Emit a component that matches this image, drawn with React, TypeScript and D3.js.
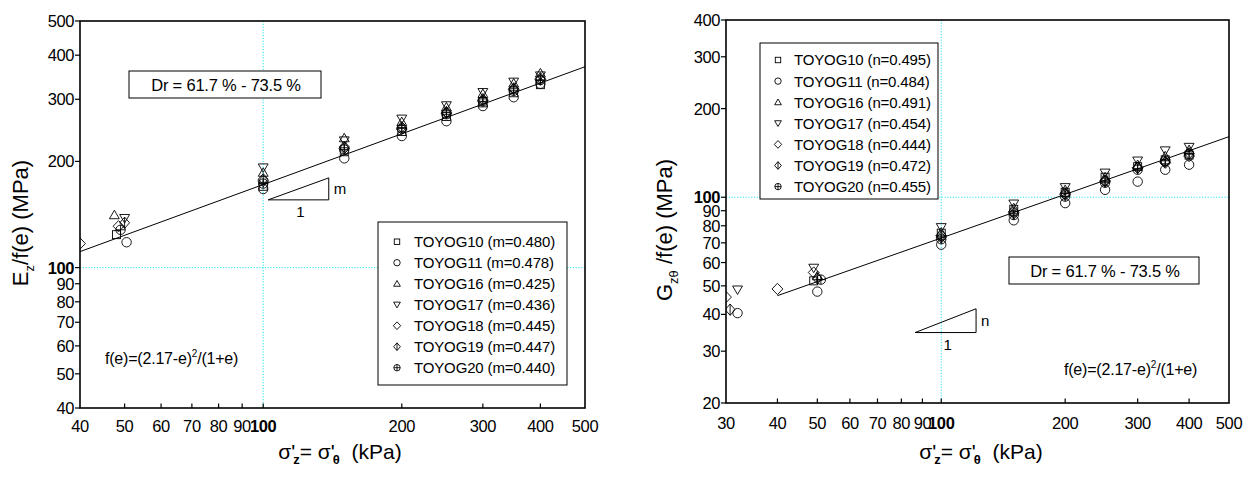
import React from 'react';
import * as d3 from 'd3';

const FONT = "'Liberation Sans', Arial, Helvetica, sans-serif";

// Specimens, their symbols and fitted exponents
const seriesNames = ['TOYOG10', 'TOYOG11', 'TOYOG16', 'TOYOG17', 'TOYOG18', 'TOYOG19', 'TOYOG20'];
const symbolKinds = ['square', 'circle', 'triangleUp', 'triangleDown', 'diamond', 'diamondBar', 'circlePlus'];
const mExponents = ['0.480', '0.478', '0.425', '0.436', '0.445', '0.447', '0.440'];
const nExponents = ['0.495', '0.484', '0.491', '0.454', '0.444', '0.472', '0.455'];

// Young's modulus Ez/f(e) (MPa) against vertical stress (kPa)
const eStress10 = [48, 100, 150, 200, 250, 300, 350, 400];
const eValue10 = [124, 170, 213, 243, 268, 293, 313, 330];
const eStress11 = [50.5, 100, 150, 200, 250, 300, 350, 400];
const eValue11 = [118, 167, 204, 236, 260, 287, 304, 332];
const eStress16 = [47.5, 100, 150, 200, 250, 300, 350, 400];
const eValue16 = [141, 186, 233, 259, 285, 311, 333, 356];
const eStress17 = [50, 100, 150, 200, 250, 300, 350, 400];
const eValue17 = [138, 192, 229, 264, 288, 314, 336, 350];
const eStress18 = [40, 48.5, 100, 150, 200, 250, 300, 350, 400];
const eValue18 = [117, 131, 176, 218, 247, 274, 297, 320, 341];
const eStress19 = [50, 100, 150, 200, 250, 300, 350, 400];
const eValue19 = [134, 178, 220, 250, 276, 300, 322, 344];
const eStress20 = [49, 100, 150, 200, 250, 300, 350, 400];
const eValue20 = [128, 173, 216, 248, 272, 296, 317, 340];

// Shear modulus Gzθ/f(e) (MPa) against vertical stress (kPa)
const gStress10 = [49, 100, 150, 200, 250, 300, 350, 400];
const gValue10 = [52, 75.5, 91, 104, 117, 127, 134, 139];
const gStress11 = [32, 50, 100, 150, 200, 250, 300, 350, 400];
const gValue11 = [40.4, 47.8, 69, 83.5, 95.5, 106, 113, 124, 129];
const gStress16 = [50, 100, 150, 200, 250, 300, 350, 400];
const gValue16 = [54, 76, 92, 106, 117, 129, 138, 145];
const gStress17 = [32, 49, 100, 150, 200, 250, 300, 350, 400];
const gValue17 = [48.5, 57.5, 79, 95, 108, 121, 133, 144, 148];
const gStress18 = [30, 40, 49, 100, 150, 200, 250, 300, 350, 400];
const gValue18 = [45.8, 48.8, 55.5, 74, 89, 102, 113, 126, 131, 138];
const gStress19 = [30.7, 50, 100, 150, 200, 250, 300, 350, 400];
const gValue19 = [41.5, 53, 73, 88, 103, 114, 126, 132, 141];
const gStress20 = [51, 100, 150, 200, 250, 300, 350, 400];
const gValue20 = [52.5, 72, 87, 100.5, 112, 124, 133, 140];

// Regression lines (end points)
const eFitStress = [40, 500];
const eFitValue = [111, 371];
const gFitStress = [40, 500];
const gFitValue = [46.3, 160.6];

// Slope triangles (data coordinates)
const eSlopeStress = [102.5, 138.8];
const eSlopeValue = [155.6, 179.6];
const gSlopeStress = [86.4, 121.5];
const gSlopeValue = [34.7, 41.8];

// Axis ticks
const eXTicks = [40, 50, 60, 70, 80, 90, 100, 200, 300, 400, 500];
const eYTicks = [40, 50, 60, 70, 80, 90, 100, 200, 300, 400, 500];
const gXTicks = [30, 40, 50, 60, 70, 80, 90, 100, 200, 300, 400, 500];
const gYTicks = [20, 30, 40, 50, 60, 70, 80, 90, 100, 200, 300, 400];

const eSeries = [
  [eStress10, eValue10], [eStress11, eValue11], [eStress16, eValue16], [eStress17, eValue17],
  [eStress18, eValue18], [eStress19, eValue19], [eStress20, eValue20],
];
const gSeries = [
  [gStress10, gValue10], [gStress11, gValue11], [gStress16, gValue16], [gStress17, gValue17],
  [gStress18, gValue18], [gStress19, gValue19], [gStress20, gValue20],
];

function Marker({ kind, cx, cy, s, sw = 0.9 }: { kind: string; cx: number; cy: number; s: number; sw?: number }) {
  const st = { fill: 'none', stroke: '#000', strokeWidth: sw };
  switch (kind) {
    case 'square':
      return <rect x={cx - s * 0.85} y={cy - s * 0.85} width={s * 1.7} height={s * 1.7} {...st} />;
    case 'circle':
      return <circle cx={cx} cy={cy} r={s} {...st} />;
    case 'triangleUp':
      return <path d={`M${cx},${cy - s} L${cx + s * 1.05},${cy + s * 0.8} L${cx - s * 1.05},${cy + s * 0.8}Z`} {...st} />;
    case 'triangleDown':
      return <path d={`M${cx},${cy + s} L${cx + s * 1.05},${cy - s * 0.8} L${cx - s * 1.05},${cy - s * 0.8}Z`} {...st} />;
    case 'diamond':
      return <path d={`M${cx},${cy - s * 1.2} L${cx + s * 1.15},${cy} L${cx},${cy + s * 1.2} L${cx - s * 1.15},${cy}Z`} {...st} />;
    case 'diamondBar':
      return (
        <g>
          <path d={`M${cx},${cy - s * 1.2} L${cx + s * 1.05},${cy} L${cx},${cy + s * 1.2} L${cx - s * 1.05},${cy}Z`} {...st} />
          <line x1={cx} y1={cy - s * 1.2} x2={cx} y2={cy + s * 1.2} {...st} />
        </g>
      );
    default:
      return (
        <g>
          <circle cx={cx} cy={cy} r={s} {...st} />
          <line x1={cx - s} y1={cy} x2={cx + s} y2={cy} {...st} />
          <line x1={cx} y1={cy - s} x2={cx} y2={cy + s} {...st} />
        </g>
      );
  }
}

type PanelProps = {
  id: string;
  xs: d3.ScaleLogarithmic<number, number>;
  ys: d3.ScaleLogarithmic<number, number>;
  xTicks: number[];
  yTicks: number[];
  series: number[][][];
  fitX: number[];
  fitY: number[];
  slopeX: number[];
  slopeY: number[];
  slopeLetter: string;
  exps: string[];
  expLetter: string;
  legend: { x: number; y: number; w: number; h: number; row0: number; step: number; symX: number; textX: number };
  dr: { x: number; y: number; w: number; h: number; tx: number; ty: number };
  fe: { x: number; y: number };
  yLabel: { x: number; y: number; sub: string; gap: string };
  xLabel: { x: number; y: number };
  xLabelBase: number;
};

function Panel(p: PanelProps) {
  const [x0, x1] = p.xs.range();
  const [y0, y1] = p.ys.range(); // y0 bottom, y1 top
  const guide = { stroke: '#22e6ee', strokeWidth: 1, strokeDasharray: '1.2,1.6' };
  const line = d3.line<number>().x((_, i) => p.xs(p.fitX[i])).y((_, i) => p.ys(p.fitY[i]));
  const sx0 = p.xs(p.slopeX[0]);
  const sx1 = p.xs(p.slopeX[1]);
  const sy0 = p.ys(p.slopeY[0]);
  const sy1 = p.ys(p.slopeY[1]);
  return (
    <g fontFamily={FONT}>
      <defs>
        <clipPath id={p.id}>
          <rect x={x0} y={y1} width={x1 - x0} height={y0 - y1} />
        </clipPath>
      </defs>
      {/* guide lines at 100 kPa / 100 MPa */}
      <line x1={p.xs(100)} x2={p.xs(100)} y1={y1} y2={y0} {...guide} />
      <line x1={x0} x2={x1} y1={p.ys(100)} y2={p.ys(100)} {...guide} />

      {/* regression line */}
      <path d={line(p.fitX) || ''} fill="none" stroke="#000" strokeWidth={1} clipPath={`url(#${p.id})`} />

      {/* measured points */}
      <g clipPath={`url(#${p.id})`}>
        {p.series.map(([sx, sy], si) =>
          sx.map((v, i) => (
            <Marker key={`${si}-${i}`} kind={symbolKinds[si]} cx={p.xs(v)} cy={p.ys(sy[i])} s={4.7} />
          ))
        )}
      </g>

      {/* slope triangle */}
      <path d={`M${sx0},${sy0} L${sx1},${sy0} L${sx1},${sy1} Z`} fill="none" stroke="#000" strokeWidth={1} />
      <text x={sx1 + 5} y={(sy0 + sy1) / 2 + 5} fontSize={15}>{p.slopeLetter}</text>
      <text x={(sx0 + sx1) / 2 + 2} y={sy0 + 17} fontSize={15} textAnchor="middle">1</text>

      {/* frame */}
      <rect x={x0} y={y1} width={x1 - x0} height={y0 - y1} fill="none" stroke="#000" strokeWidth={1.6} />

      {/* x ticks */}
      {p.xTicks.map((t) => (
        <g key={`xt${t}`}>
          {t !== p.xs.domain()[0] && t !== p.xs.domain()[1] && (
            <line x1={p.xs(t)} x2={p.xs(t)} y1={y0} y2={y0 - 4.5} stroke="#000" strokeWidth={1.2} />
          )}
          <text x={p.xs(t)} y={p.xLabelBase} fontSize={16.5} textAnchor="middle" fontWeight={t === 100 ? 'bold' : 'normal'} letterSpacing={-0.4}>
            {t}
          </text>
        </g>
      ))}
      {/* y ticks */}
      {p.yTicks.map((t) => (
        <g key={`yt${t}`}>
          <line x1={x0 - 5} x2={x0} y1={p.ys(t)} y2={p.ys(t)} stroke="#000" strokeWidth={1.2} />
          <text x={x0 - 6} y={p.ys(t) + 6} fontSize={16.5} textAnchor="end" fontWeight={t === 100 ? 'bold' : 'normal'} letterSpacing={-0.4}>
            {t}
          </text>
        </g>
      ))}

      {/* legend */}
      <rect x={p.legend.x} y={p.legend.y} width={p.legend.w} height={p.legend.h} fill="#fff" stroke="#000" strokeWidth={1} />
      {seriesNames.map((name, i) => {
        const cy = p.legend.row0 + i * p.legend.step;
        return (
          <g key={name}>
            <Marker kind={symbolKinds[i]} cx={p.legend.symX} cy={cy} s={3.2} sw={0.9} />
            <text x={p.legend.textX} y={cy + 5.4} fontSize={15} letterSpacing={-0.15}>
              {`${name} (${p.expLetter}=${p.exps[i]})`}
            </text>
          </g>
        );
      })}

      {/* density range */}
      <rect x={p.dr.x} y={p.dr.y} width={p.dr.w} height={p.dr.h} fill="#fff" stroke="#000" strokeWidth={1} />
      <text x={p.dr.tx} y={p.dr.ty} fontSize={16.5} textAnchor="middle" letterSpacing={-0.2}>Dr = 61.7 % - 73.5 %</text>

      {/* void ratio function */}
      <text x={p.fe.x} y={p.fe.y} fontSize={16} letterSpacing={-0.2}>
        f(e)=(2.17-e)<tspan fontSize={10} dy={-7}>2</tspan>
        <tspan dy={7}>/(1+e)</tspan>
      </text>

      {/* y label */}
      <text transform={`translate(${p.yLabel.x},${p.yLabel.y}) rotate(-90)`} fontSize={22} textAnchor="middle">
        {p.yLabel.sub === 'z' ? 'E' : 'G'}
        <tspan fontSize={13} dy={6}>{p.yLabel.sub}</tspan>
        <tspan dy={-6}>{`${p.yLabel.gap}/f(e) (MPa)`}</tspan>
      </text>

      {/* x label */}
      <text x={p.xLabel.x} y={p.xLabel.y} fontSize={21} textAnchor="middle" style={{ whiteSpace: 'pre' }}>
        σ'
        <tspan fontSize={13} fontWeight="bold" dy={5} dx={-2}>z</tspan>
        <tspan dy={-5}>= σ'</tspan>
        <tspan fontSize={13} fontWeight="bold" dy={5} dx={-2}>θ</tspan>
        <tspan dy={-5}>{'  (kPa)'}</tspan>
      </text>
    </g>
  );
}

export default function App() {
  const xE = d3.scaleLog().domain([40, 500]).range([80, 585]);
  const yE = d3.scaleLog().domain([40, 500]).range([408, 21]);
  const xG = d3.scaleLog().domain([30, 500]).range([726, 1229]);
  const yG = d3.scaleLog().domain([20, 400]).range([403, 20]);

  return (
    <svg
      width={1255}
      height={480}
      viewBox="0 0 1255 480"
      style={{ position: 'absolute', left: 0, top: 0, background: '#fff' }}
    >
      <rect width={1255} height={480} fill="#fff" />
      <Panel
        id="clipE"
        xs={xE}
        ys={yE}
        xTicks={eXTicks}
        yTicks={eYTicks}
        series={eSeries}
        fitX={eFitStress}
        fitY={eFitValue}
        slopeX={eSlopeStress}
        slopeY={eSlopeValue}
        slopeLetter="m"
        exps={mExponents}
        expLetter="m"
        legend={{ x: 378, y: 222, w: 189, h: 163, row0: 241.7, step: 21, symX: 397, textX: 414 }}
        dr={{ x: 129, y: 71, w: 192, h: 27, tx: 226, ty: 91 }}
        fe={{ x: 105, y: 364 }}
        yLabel={{ x: 28, y: 223, sub: 'z', gap: '' }}
        xLabel={{ x: 340, y: 459 }}
        xLabelBase={432}
      />
      <Panel
        id="clipG"
        xs={xG}
        ys={yG}
        xTicks={gXTicks}
        yTicks={gYTicks}
        series={gSeries}
        fitX={gFitStress}
        fitY={gFitValue}
        slopeX={gSlopeStress}
        slopeY={gSlopeValue}
        slopeLetter="n"
        exps={nExponents}
        expLetter="n"
        legend={{ x: 760, y: 43, w: 178, h: 156, row0: 60, step: 21.1, symX: 778, textX: 794 }}
        dr={{ x: 1009, y: 257, w: 190, h: 27, tx: 1105, ty: 277 }}
        fe={{ x: 1064, y: 375 }}
        yLabel={{ x: 672, y: 230, sub: 'zθ', gap: ' ' }}
        xLabel={{ x: 981, y: 459 }}
        xLabelBase={429}
      />
    </svg>
  );
}
